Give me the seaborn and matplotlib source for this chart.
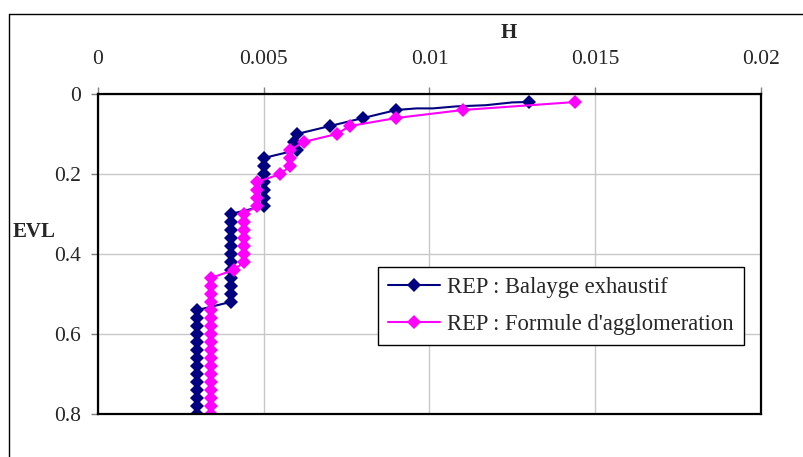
import matplotlib.pyplot as plt
from matplotlib.lines import Line2D
import seaborn as sns
import pandas as pd

# REP : Balayge exhaustif (a few unmarked kinks near the top)
h_balayage = [0.0130, 0.0125, 0.0117, 0.0108, 0.0101, 0.0096, 0.0090, 0.0080, 0.0070,
              0.0060, 0.0059, 0.0060,
              0.0050, 0.0050, 0.0050, 0.0050, 0.0050, 0.0050, 0.0050,
              0.0040, 0.0040, 0.0040, 0.0040, 0.0040, 0.0040, 0.0040, 0.0040,
              0.0040, 0.0040, 0.0040, 0.0040,
              0.0030, 0.0030, 0.0030, 0.0030, 0.0030, 0.0030, 0.0030, 0.0030,
              0.0030, 0.0030, 0.0030, 0.0030, 0.0030, 0.0030]
evl_balayage = [0.02, 0.021, 0.028, 0.031, 0.036, 0.036, 0.04, 0.06, 0.08,
                0.10, 0.12, 0.14,
                0.16, 0.18, 0.20, 0.22, 0.24, 0.26, 0.28,
                0.30, 0.32, 0.34, 0.36, 0.38, 0.40, 0.42, 0.44,
                0.46, 0.48, 0.50, 0.52,
                0.54, 0.56, 0.58, 0.60, 0.62, 0.64, 0.66, 0.68,
                0.70, 0.72, 0.74, 0.76, 0.78, 0.80]
marked_balayage = [0] + list(range(6, 45))

# REP : Formule d'agglomeration
h_formule = [0.0144, 0.0110, 0.0090, 0.0076, 0.0072, 0.0062, 0.0058, 0.0058, 0.0058,
             0.0055, 0.0048, 0.0048, 0.0048, 0.0048,
             0.0044, 0.0044, 0.0044, 0.0044, 0.0044, 0.0044, 0.0044,
             0.0041,
             0.0034, 0.0034, 0.0034, 0.0034, 0.0034, 0.0034, 0.0034, 0.0034, 0.0034,
             0.0034, 0.0034, 0.0034, 0.0034, 0.0034, 0.0034, 0.0034, 0.0034, 0.0034]
evl_formule = [0.02, 0.04, 0.06, 0.08, 0.10, 0.12, 0.14, 0.16, 0.18,
               0.20, 0.22, 0.24, 0.26, 0.28,
               0.30, 0.32, 0.34, 0.36, 0.38, 0.40, 0.42,
               0.44,
               0.46, 0.48, 0.50, 0.52, 0.54, 0.56, 0.58, 0.60, 0.62,
               0.64, 0.66, 0.68, 0.70, 0.72, 0.74, 0.76, 0.78, 0.80]

x_ticks = [0, 0.005, 0.01, 0.015, 0.02]
x_labels = ['0', '0.005', '0.01', '0.015', '0.02']
y_ticks = [0, 0.2, 0.4, 0.6, 0.8]
y_labels = ['0', '0.2', '0.4', '0.6', '0.8']

df_bal = pd.DataFrame({'H': h_balayage, 'EVL': evl_balayage})
df_for = pd.DataFrame({'H': h_formule, 'EVL': evl_formule})

sns.set_theme(style='white')
plt.rcParams['font.family'] = ['Liberation Serif', 'DejaVu Serif']

fig = plt.figure(figsize=(8.04, 4.57), dpi=100)
ax = fig.add_axes([98 / 804, 1 - 414 / 457, 663 / 804, 320 / 457])

# outer frame: only left and top edges visible in the original
fx, fy = 9.5 / 804, 1 - 13.5 / 457
fig.add_artist(Line2D([fx, fx], [0, fy], transform=fig.transFigure, color='black', lw=1))
fig.add_artist(Line2D([fx, 1], [fy, fy], transform=fig.transFigure, color='black', lw=1))

sns.lineplot(data=df_bal, x='H', y='EVL', sort=False, estimator=None, ax=ax,
             color='#000080', linewidth=1.5, marker='D', markersize=7,
             markeredgewidth=0, markevery=marked_balayage,
             label='REP : Balayge exhaustif')
sns.lineplot(data=df_for, x='H', y='EVL', sort=False, estimator=None, ax=ax,
             color='#FF00FF', linewidth=1.5, marker='D', markersize=7,
             markeredgewidth=0, label="REP : Formule d'agglomeration")

ax.set_xlim(0, 0.02)
ax.set_ylim(0.8, 0)
ax.xaxis.tick_top()
ax.xaxis.set_label_position('top')
ax.set_xticks(x_ticks)
ax.set_xticklabels(x_labels)
ax.set_yticks(y_ticks)
ax.set_yticklabels(y_labels)
ax.tick_params(axis='x', direction='out', length=5, width=1, color='#808080',
               pad=13, labelsize=15.5, top=True, bottom=False)
ax.tick_params(axis='y', direction='out', length=5, width=1, color='#808080',
               pad=7, labelsize=15.5, left=True)

ax.grid(True, color='#c8c8c8', linewidth=1)
for s in ax.spines.values():
    s.set_color('black')
    s.set_linewidth(1.6)

ax.set_xlabel('H', fontsize=15, fontweight='bold', va='center')
ax.xaxis.set_label_coords(0.62, 1.19)
ax.set_ylabel('EVL', fontsize=15, fontweight='bold', rotation=0, ha='center', va='center')
ax.yaxis.set_label_coords(-0.0965, 0.57)

leg = ax.legend(loc='upper left', bbox_to_anchor=(0.422, 0.459), borderaxespad=0,
                fontsize=16.3, handlelength=2.3, handletextpad=0.3, frameon=True,
                fancybox=False, framealpha=1, edgecolor='black',
                borderpad=0.45, labelspacing=0.68)
leg.get_frame().set_linewidth(1)

fig.savefig('out.png', dpi=100)
